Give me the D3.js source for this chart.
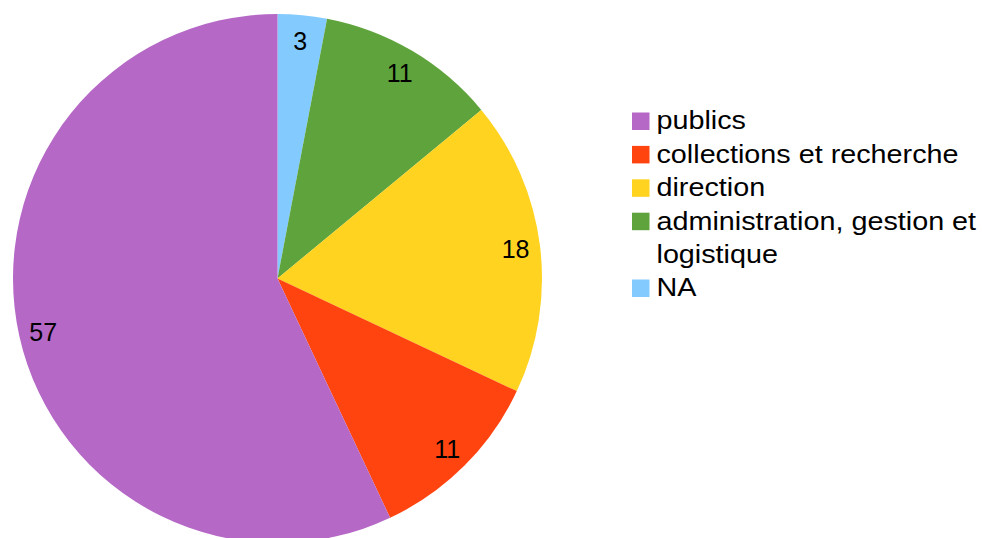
<!DOCTYPE html>
<html>
<head>
<meta charset="utf-8">
<script src="https://cdn.jsdelivr.net/npm/d3@7/dist/d3.min.js"></script>
<style>
  html, body { margin: 0; padding: 0; background: #fff; }
  svg { display: block; font-family: "Liberation Sans", Arial, sans-serif; }
</style>
</head>
<body>
<svg id="chart" width="982" height="538"></svg>
<script>
// Staff distribution by department
const categories = ["publics", "collections et recherche", "direction", "administration, gestion et logistique", "NA"];
const legendLines = [["publics"], ["collections et recherche"], ["direction"], ["administration, gestion et", "logistique"], ["NA"]];
const values = [57, 11, 18, 11, 3];
const colors = ["#b568c6", "#ff4410", "#ffd320", "#5ea33b", "#83caff"];

const svg = d3.select("#chart");
const cx = 277.5, cy = 278.5, R = 264.5, labelR = 240;

// Slices run clockwise from 12 o'clock in reverse category order
const order = d3.range(categories.length).reverse();
const pie = d3.pie()
  .sort(null)
  .value(i => values[i]);
const arcs = pie(order);

const arc = d3.arc().innerRadius(0).outerRadius(R);
const labelArc = d3.arc().innerRadius(labelR).outerRadius(labelR);

const g = svg.append("g").attr("transform", `translate(${cx},${cy})`);

g.selectAll("path.slice")
  .data(arcs)
  .join("path")
  .attr("class", "slice")
  .attr("d", arc)
  .attr("fill", d => colors[d.data]);

g.selectAll("text.val")
  .data(arcs)
  .join("text")
  .attr("class", "val")
  .attr("transform", d => {
    const [x, y] = labelArc.centroid(d);
    return `translate(${x},${y + 1})`;
  })
  .attr("text-anchor", "middle")
  .attr("dominant-baseline", "central")
  .attr("font-size", 25)
  .attr("fill", "#000")
  .text(d => values[d.data]);

// Legend
const legend = svg.append("g").attr("transform", "translate(632,0)");
const lineH = 33.4;
let row = 0;
const rows = [];
categories.forEach((c, i) => {
  rows.push({ i, row });
  row += legendLines[i].length;
});
const y0 = 121;

const item = legend.selectAll("g.item")
  .data(rows)
  .join("g")
  .attr("class", "item")
  .attr("transform", d => `translate(0,${y0 + d.row * lineH})`);

item.append("rect")
  .attr("x", 0)
  .attr("y", -8.5)
  .attr("width", 17.5)
  .attr("height", 17.5)
  .attr("fill", d => colors[d.i]);

item.each(function(d) {
  const t = d3.select(this).append("text")
    .attr("transform", "translate(24.5,0) scale(1.15,1)")
    .attr("font-size", 25)
    .attr("fill", "#000");
  legendLines[d.i].forEach((ln, k) => {
    t.append("tspan")
      .attr("x", 0)
      .attr("y", k * lineH)
      .attr("dominant-baseline", "central")
      .text(ln);
  });
});
</script>
</body>
</html>
